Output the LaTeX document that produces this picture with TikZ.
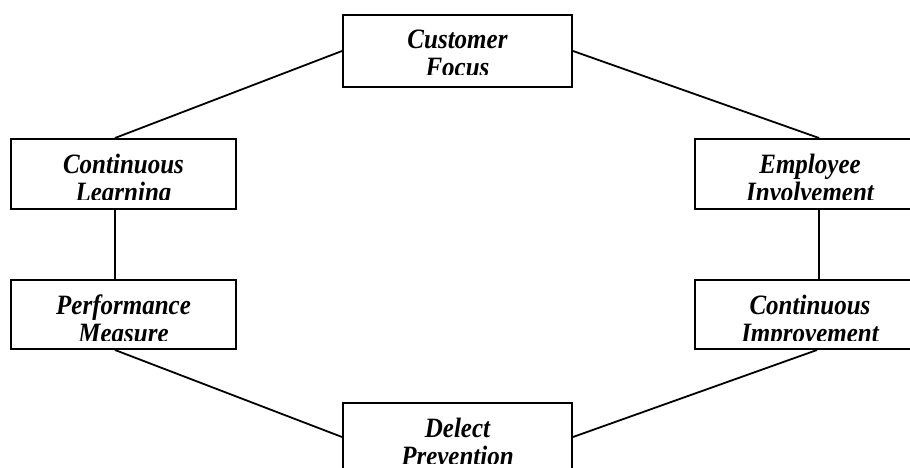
\documentclass[tikz,border=0pt]{standalone}
\usepackage{fontspec}
\setmainfont{Liberation Serif}
\begin{document}
\begin{tikzpicture}[x=1pt,y=-1pt,
  box/.style={draw=black, line width=2pt, rectangle, inner sep=0pt},
  link/.style={draw=black, line width=1.8pt},
  label/.style={font=\fontsize{25}{28}\selectfont\bfseries\itshape, inner sep=0pt, anchor=base},
  twolines/.style 2 args={path picture={
      \clip (path picture bounding box.north west) rectangle
            ([yshift=-60pt]path picture bounding box.north east);
      \node[label] at ([yshift=-34pt]path picture bounding box.north) {\scalebox{1}[1.12]{#1}};
      \node[label] at ([yshift=-62pt]path picture bounding box.north) {\scalebox{1}[1.12]{#2}};
  }}]
  \useasboundingbox (0,0) rectangle (910,468);

  % the six principle boxes
  \node[box, minimum width=229pt, minimum height=72pt, twolines={Customer}{Focus}]
    (cf) at (457.5,51) {};
  \node[box, minimum width=225pt, minimum height=70pt, twolines={Continuous}{Learning}]
    (cl) at (123.5,174) {};
  \node[box, minimum width=230pt, minimum height=70pt, twolines={Employee}{Involvement}]
    (ei) at (810,174) {};
  \node[box, minimum width=225pt, minimum height=69pt, twolines={Performance}{Measure}]
    (pm) at (123.5,314.5) {};
  \node[box, minimum width=230pt, minimum height=69pt, twolines={Continuous}{Improvement}]
    (ci) at (810,314.5) {};
  \node[box, minimum width=229pt, minimum height=72pt, twolines={Delect}{Prevention}]
    (dp) at (457.5,439) {};

  % connectors closing the ring
  \draw[link] (cf.west) -- ([xshift=-8.5pt]cl.north);
  \draw[link] (cf.east) -- ([xshift=9pt]ei.north);
  \draw[link] ([xshift=-8.5pt]cl.south) -- ([xshift=-8.5pt]pm.north);
  \draw[link] ([xshift=9pt]ei.south) -- ([xshift=9pt]ci.north);
  \draw[link] ([xshift=-8.5pt]pm.south) -- ([yshift=2pt]dp.west);
  \draw[link] ([xshift=7pt]ci.south) -- ([yshift=2pt]dp.east);
\end{tikzpicture}
\end{document}
